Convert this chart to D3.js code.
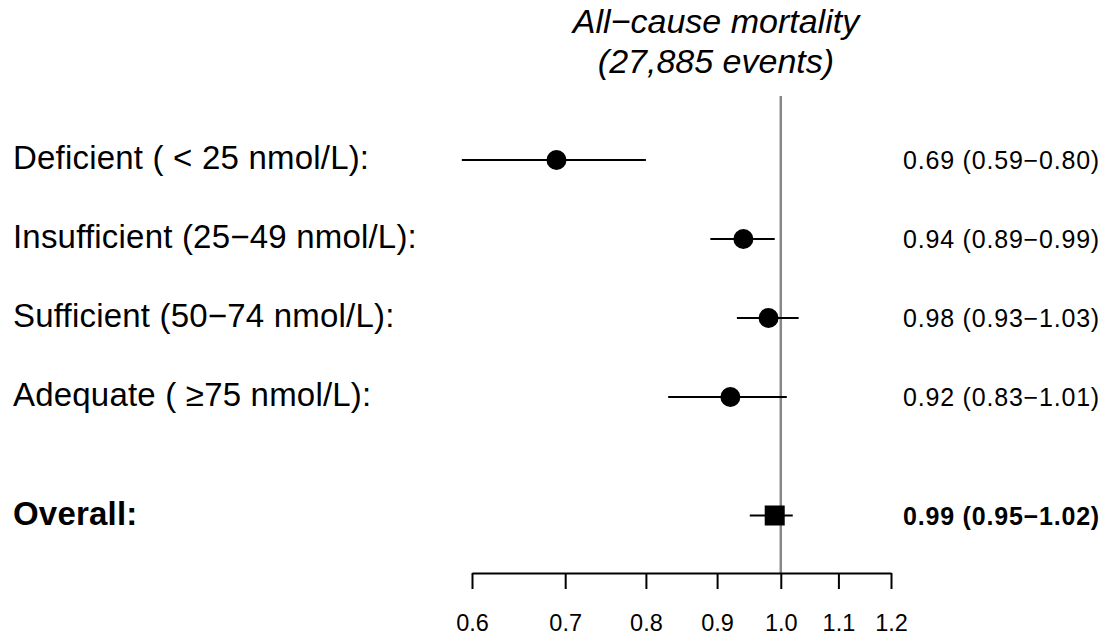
<!DOCTYPE html>
<html>
<head>
<meta charset="utf-8">
<script src="https://cdn.jsdelivr.net/npm/d3@7"></script>
<style>
  body { margin: 0; background: #fff; }
  svg { font-family: "Liberation Sans", Arial, Helvetica, sans-serif; }
</style>
</head>
<body>
<div id="chart"></div>
<script>
// forest plot data
const labels = [
  "Deficient ( < 25 nmol/L):",
  "Insufficient (25\u221249 nmol/L):",
  "Sufficient (50\u221274 nmol/L):",
  "Adequate ( \u226575 nmol/L):",
  "Overall:"
]
const hr    = [0.69, 0.94, 0.98, 0.92, 0.99]
const lower = [0.59, 0.89, 0.93, 0.83, 0.95]
const upper = [0.80, 0.99, 1.03, 1.01, 1.02]
const rowPos = [0, 1, 2, 3, 4.5]   // blank gap before overall
const tickVals = [0.6, 0.7, 0.8, 0.9, 1.0, 1.1, 1.2]
const titleLines = ["All\u2212cause mortality", "(27,885 events)"]

const width = 1107, height = 638

const rows = labels.map((d, i) => ({
  label: d, hr: hr[i], lo: lower[i], hi: upper[i], pos: rowPos[i],
  overall: i === labels.length - 1
}))

const fmt = d3.format(".2f")

const svg = d3.select("#chart").append("svg")
  .attr("width", width)
  .attr("height", height)

// log scale for hazard ratios
const x = d3.scaleLog()
  .domain([0.6, 1.2])
  .range([472, 891])

const y = d3.scaleLinear()
  .domain([0, 4.5])
  .range([160, 515.5])

const axisY = 573

// title
svg.append("text")
  .attr("x", 716)
  .attr("text-anchor", "middle")
  .style("font-style", "italic")
  .style("font-size", "34px")
  .selectAll("tspan")
  .data(titleLines)
  .join("tspan")
    .attr("x", 716)
    .attr("y", (d, i) => 33 + i * 40)
    .text(d => d)

// reference line at 1
svg.append("line")
  .attr("x1", x(1)).attr("x2", x(1))
  .attr("y1", 96).attr("y2", axisY)
  .attr("stroke", "#888")
  .attr("stroke-width", 2.5)

// x axis
const xAxis = svg.append("g")
  .attr("transform", `translate(0, ${axisY})`)
  .call(d3.axisBottom(x)
    .tickValues(tickVals)
    .tickFormat(d3.format(".1f"))
    .tickSizeInner(16)
    .tickSizeOuter(0)
    .tickPadding(25))
xAxis.selectAll("path, line")
  .attr("stroke", "#000")
  .attr("stroke-width", 2)
xAxis.selectAll("text")
  .attr("fill", "#000")
  .style("font-family", "\"Liberation Sans\", Arial, sans-serif")
  .style("font-size", "23.5px")

// confidence intervals
svg.selectAll(".ci")
  .data(rows)
  .join("line")
    .attr("class", "ci")
    .attr("x1", d => x(d.lo))
    .attr("x2", d => x(d.hi))
    .attr("y1", d => y(d.pos))
    .attr("y2", d => y(d.pos))
    .attr("stroke", "#000")
    .attr("stroke-width", 2)

// point estimates: circles for subgroups, square for overall
svg.selectAll(".pt")
  .data(rows.filter(d => !d.overall))
  .join("circle")
    .attr("class", "pt")
    .attr("cx", d => x(d.hr))
    .attr("cy", d => y(d.pos))
    .attr("r", 10)
    .attr("fill", "#000")

svg.selectAll(".sq")
  .data(rows.filter(d => d.overall))
  .join("rect")
    .attr("class", "sq")
    .attr("x", d => x(d.hr) - 10)
    .attr("y", d => y(d.pos) - 10)
    .attr("width", 20)
    .attr("height", 20)
    .attr("fill", "#000")

// left labels
svg.selectAll(".lab")
  .data(rows)
  .join("text")
    .attr("class", "lab")
    .attr("x", 13)
    .attr("y", d => y(d.pos) + 9)
    .style("font-size", "33px")
    .style("letter-spacing", "0.2px")
    .style("font-weight", d => d.overall ? "bold" : "normal")
    .text(d => d.label)

// right values
svg.selectAll(".val")
  .data(rows)
  .join("text")
    .attr("class", "val")
    .attr("x", 903)
    .attr("y", d => y(d.pos) + 9)
    .style("font-size", "25px")
    .style("letter-spacing", "0.8px")
    .style("font-weight", d => d.overall ? "bold" : "normal")
    .text(d => `${fmt(d.hr)} (${fmt(d.lo)}\u2212${fmt(d.hi)})`)
</script>
</body>
</html>
